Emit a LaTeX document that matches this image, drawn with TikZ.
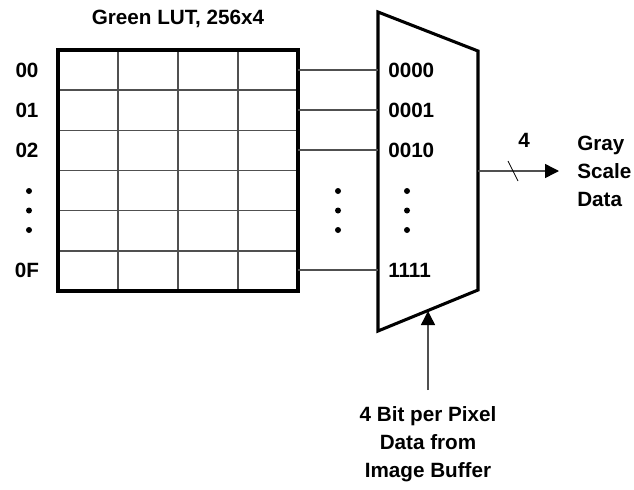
\documentclass[tikz,border=0pt]{standalone}
\usepackage{fontspec}
\setmainfont{Liberation Sans}
\usetikzlibrary{arrows.meta,positioning,calc}
\definecolor{Wire}{HTML}{505050}

\begin{document}
\begin{tikzpicture}[x=0.75pt,y=-0.75pt,
    font=\bfseries\fontsize{15.5}{21}\selectfont,
    wire/.style={Wire,line width=1.1pt},
    heavy/.style={black,line width=2.3pt,line join=miter},
    lbl/.style={inner sep=0pt},
    tip/.style={-{Triangle[length=10.5pt,width=10.5pt,color=black,fill=black]}}]
  \useasboundingbox (0,0) rectangle (634,489);

  % lookup table
  \node[lbl] (title) at (178,19) {Green LUT, 256x4};
  \foreach \c in {118,178,238}
    \draw[wire] (\c,50) -- (\c,291);
  \foreach \i in {1,...,5}
    \draw[wire] (58,{50+40.17*\i}) -- (298,{50+40.17*\i});
  \draw[heavy] (58,50) rectangle (298,291);
  \coordinate (lutE) at (298,170);

  \node[lbl] (r00) at (27,70) {00};
  \node[lbl] (r01) at (27,110) {01};
  \node[lbl] (r02) at (27,150) {02};
  \node[lbl] (r0F) at (27,270) {0F};
  \foreach \y in {191,210.5,230}
    \fill (29,\y) circle (3);

  % mux
  \coordinate (m1) at (378,12);
  \coordinate (m2) at (478,51);
  \coordinate (m3) at (478,290);
  \coordinate (m4) at (378,331);
  \draw[heavy] (m1) -- (m2) -- (m3) -- (m4) -- cycle;

  \node[lbl,anchor=west] (s0) at (388,70) {0000};
  \node[lbl,anchor=west] (s1) at (388,110) {0001};
  \node[lbl,anchor=west] (s2) at (388,150) {0010};
  \node[lbl,anchor=west] (s15) at (388,270) {1111};
  \foreach \y in {191,210.5,230} {
    \fill (338,\y) circle (3);
    \fill (407,\y) circle (3);
  }

  \foreach \s in {s0,s1,s2,s15}
    \draw[wire] (lutE |- \s) -- (m1 |- \s);

  % output
  \coordinate (outA) at (478,171);
  \coordinate (outB) at (559,171);
  \draw[wire,tip] (outA) -- (outB);
  \draw[black,line width=0.6pt] (508,161) -- (518,181);
  \node[lbl] (width) at (524,140) {4};
  \node[lbl,anchor=west,align=left] (gray) at (577,171) {Gray\\Scale\\Data};

  % select input
  \node[lbl,align=center,anchor=north] (buf) at (428,406)
    {\fontsize{15.5}{22.2}\selectfont 4 Bit per Pixel\\Data from\\Image Buffer};
  \coordinate (selB) at (428,390);
  \coordinate (selT) at (428,311);
  \draw[wire,tip] (selB) -- (selT);
\end{tikzpicture}
\end{document}
